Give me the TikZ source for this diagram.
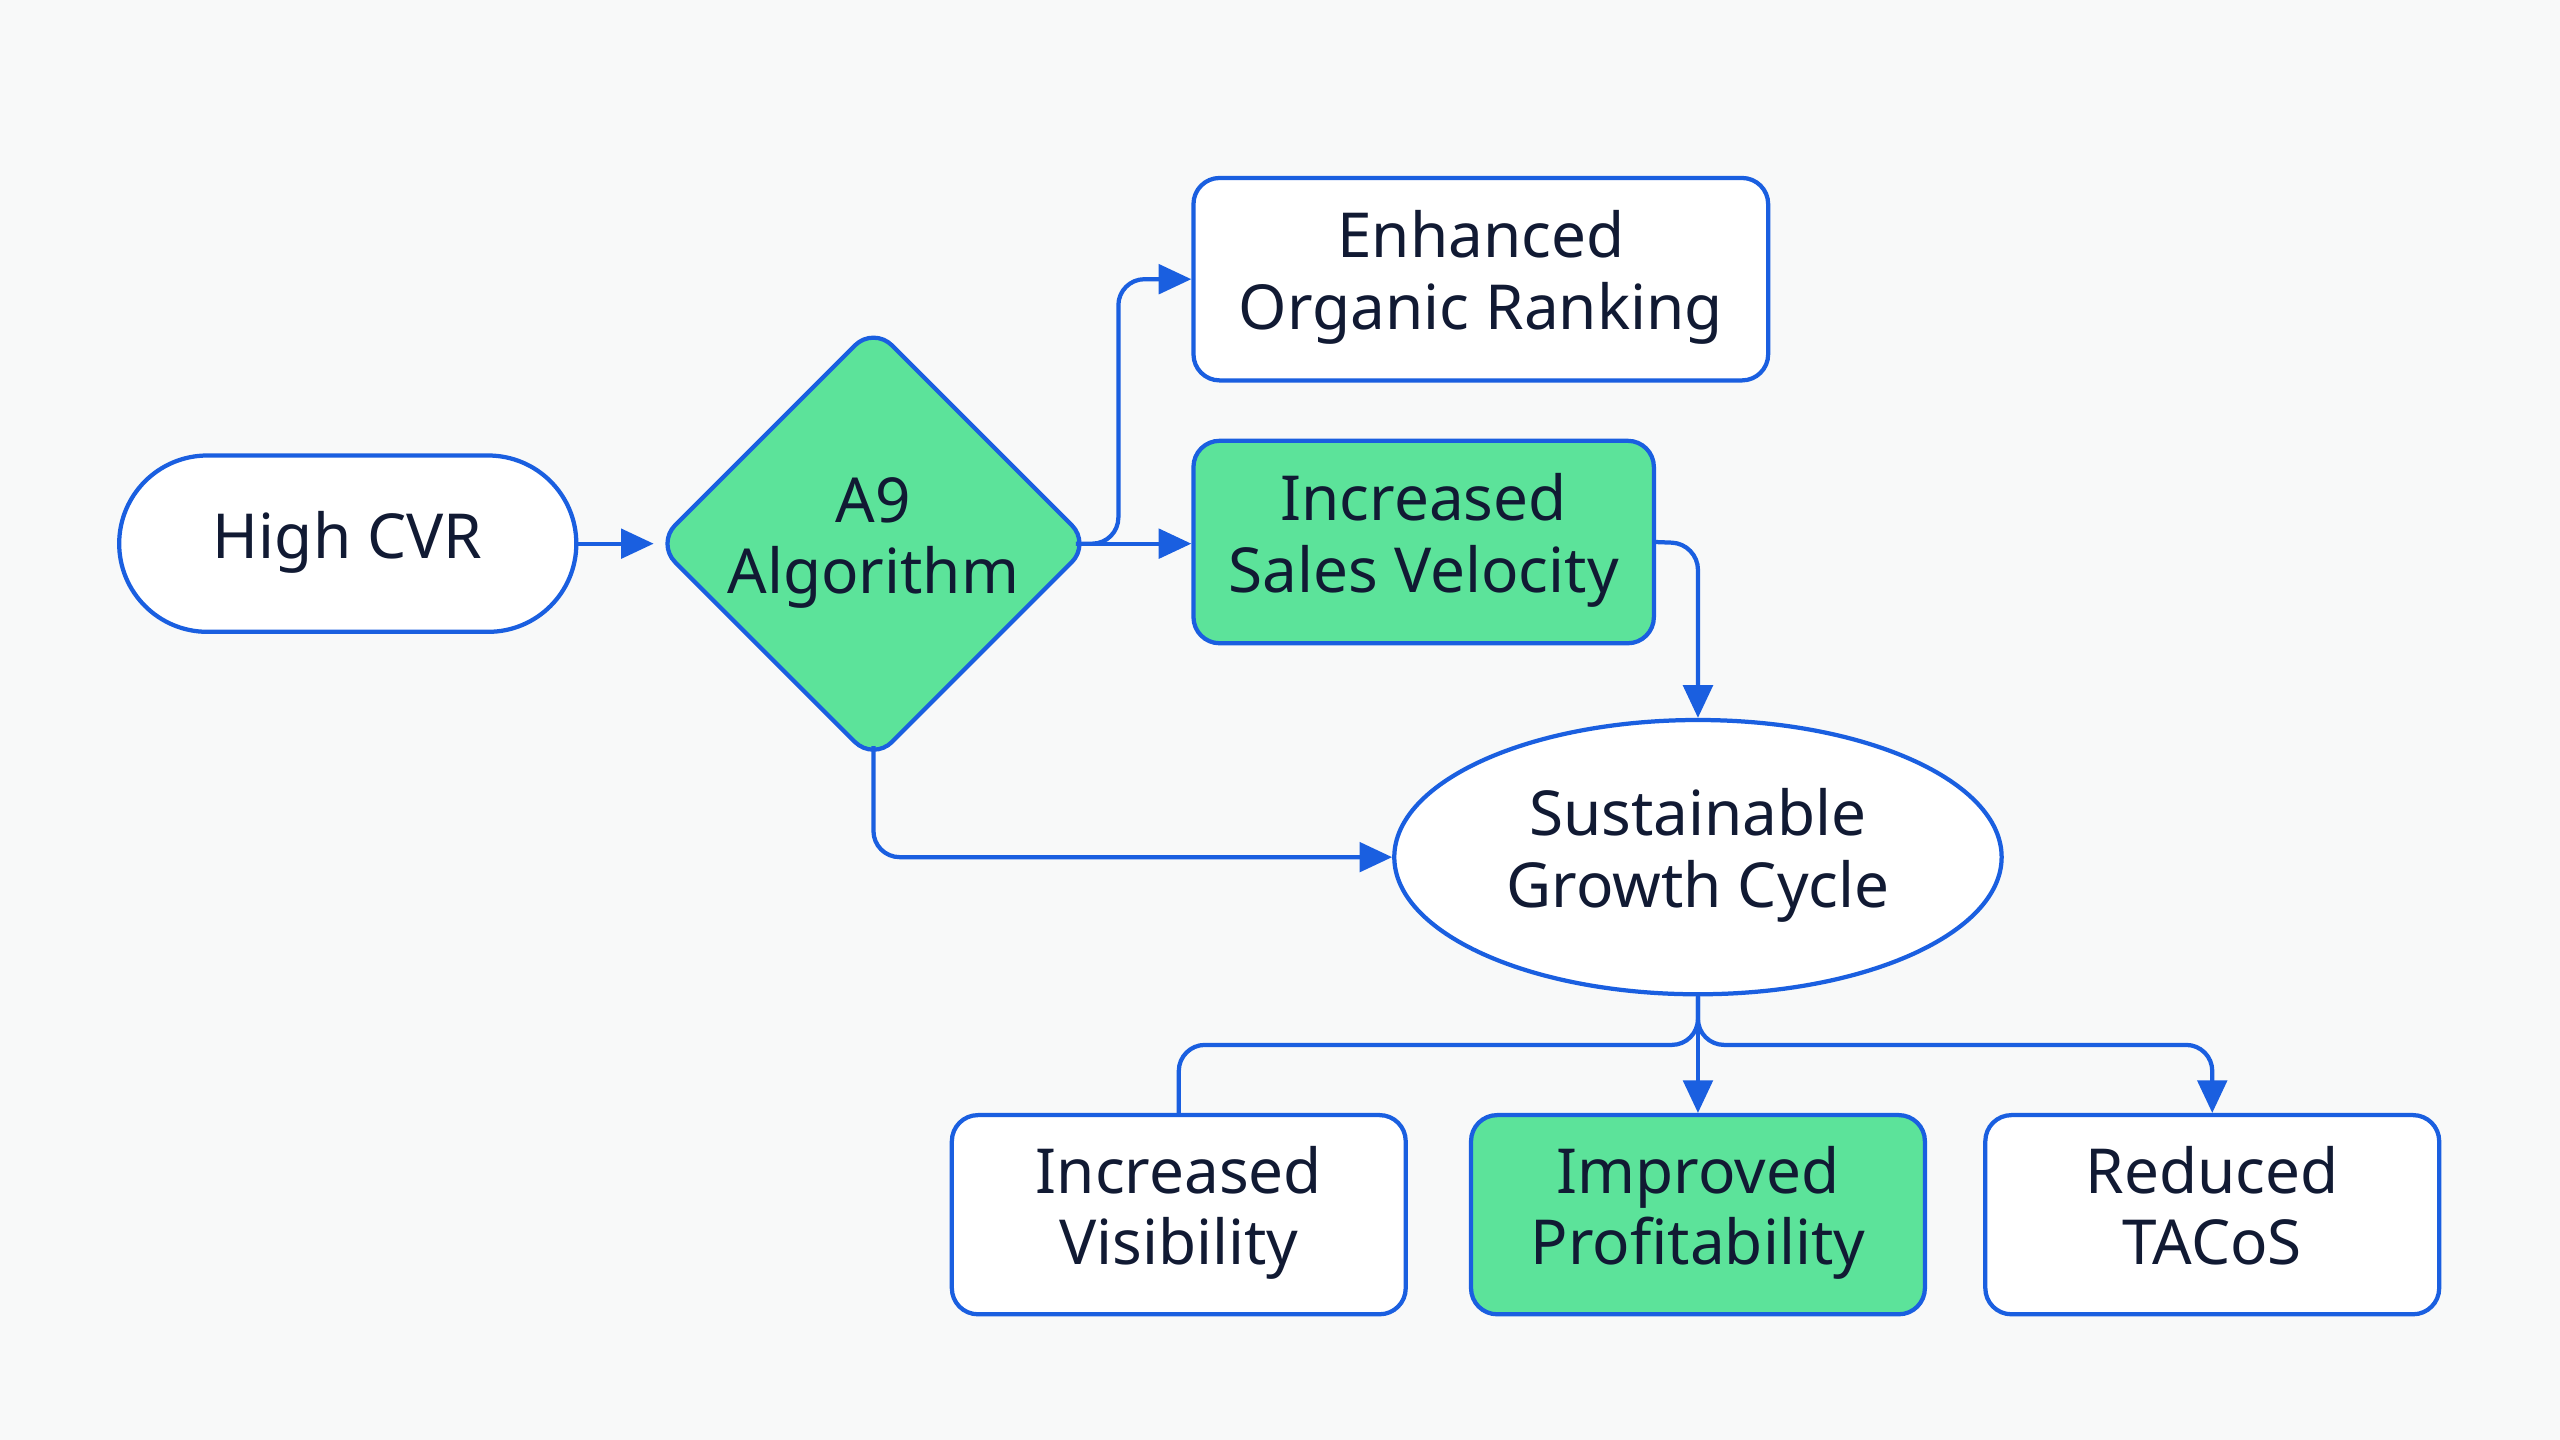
\documentclass[tikz,border=0pt]{standalone}
\usepackage{fontspec}
\setmainfont{Noto Sans}
\usetikzlibrary{shapes.geometric,arrows.meta}
\definecolor{lb}{HTML}{1A5FE0}
\definecolor{gr}{HTML}{5CE39A}
\definecolor{tx}{HTML}{111A33}
\definecolor{bg}{HTML}{F8F9F9}
\begin{document}
\begin{tikzpicture}[x=0.5pt,y=-0.5pt,
  box/.style={draw=lb,line width=1.3pt,rounded corners=8pt,fill=white,minimum width=139pt,minimum height=61pt,align=center,text=tx,font=\fontsize{19}{22}\selectfont},
  grn/.style={fill=gr},
  arr/.style={draw=lb,line width=1.3pt,-{Triangle[length=10pt,width=9pt]},rounded corners=8pt},
  ln/.style={draw=lb,line width=1.3pt,rounded corners=8pt}]
\fill[bg] (0,0) rectangle (1568,882);
\useasboundingbox (0,0) rectangle (1568,882);
\node[box,rounded corners=27pt,minimum width=140pt,minimum height=54pt] (cvr) at (213,333) {\strut High CVR};
\node[draw=lb,line width=1.3pt,fill=gr,diamond,rounded corners=8pt,minimum width=125pt,minimum height=125pt,inner sep=0pt,align=center,text=tx,font=\fontsize{19}{22}\selectfont] (a9) at (535,333) {\strut A9\\\strut Algorithm};
\coordinate (a9e) at (659,333);
\coordinate (a9s) at (535,457);
\node[box,minimum width=176pt,minimum height=62pt] (eor) at (907,171) {\strut Enhanced\\\strut Organic Ranking};
\node[box,grn,minimum width=141pt,minimum height=62pt] (isv) at (872,332) {\strut Increased\\\strut Sales Velocity};
\node[draw=lb,line width=1.3pt,fill=white,ellipse,minimum width=186pt,minimum height=84pt,inner sep=0pt,align=center,text=tx,font=\fontsize{19}{22}\selectfont] (sgc) at (1040,525) {\strut Sustainable\\\strut Growth Cycle};
\node[box] (iv) at (722,744) {\strut Increased\\\strut Visibility};
\node[box,grn] (ip) at (1040,744) {\strut Improved\\\strut Profitability};
\node[box] (rt) at (1355,744) {\strut Reduced\\\strut TACoS};
\coordinate (j) at (1040,640);
\draw[arr] (cvr.east) -- (a9.west);
\draw[arr] (a9e) -- (isv.west |- a9e);
\draw[arr] (a9e) -- (685,333) -- (685,171) -- (eor.west);
\draw[arr] (isv.east) -- (1040,333) -- (sgc.north);
\draw[arr] (a9s) -- (535,525) -- (sgc.west);
\draw[arr] (sgc.south) -- (ip.north);
\draw[ln] (sgc.south) -- (j) -- (722,640) -- (iv.north);
\draw[arr] (sgc.south) -- (j) -- (1355,640) -- (rt.north);
\end{tikzpicture}
\end{document}
